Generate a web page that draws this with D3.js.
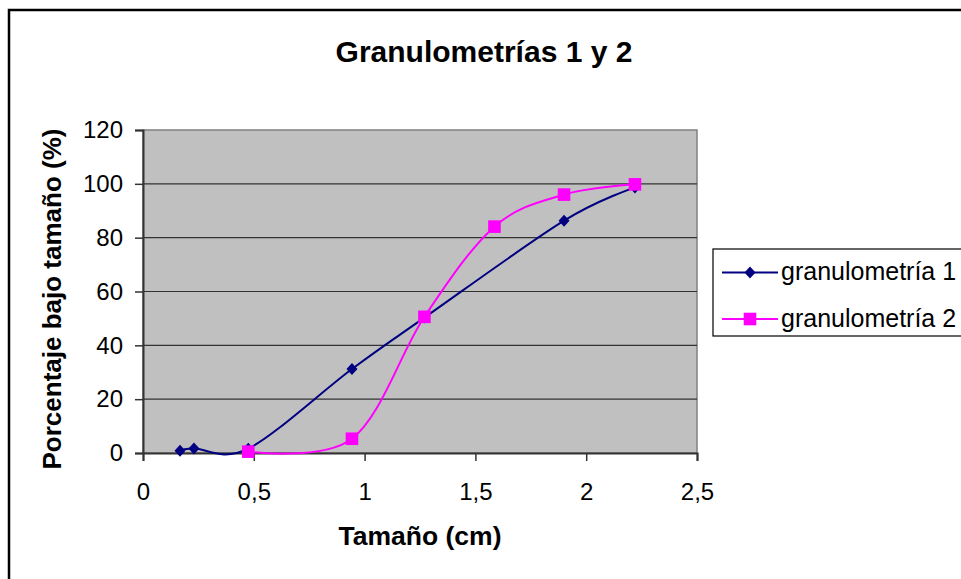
<!DOCTYPE html>
<html>
<head>
<meta charset="utf-8">
<script src="https://cdn.jsdelivr.net/npm/d3@7"></script>
<style>
  html, body { margin: 0; padding: 0; background: #fff; }
  svg { display: block; font-family: "Liberation Sans", Arial, sans-serif; }
</style>
</head>
<body>
<svg id="chart" width="961" height="579"></svg>
<script>
// Particle size (cm) and cumulative percentage passing for each grading
const sizes1 = [0.167, 0.23, 0.475, 0.943, 1.27, 1.9, 2.22];
const passing1 = [0.8, 1.7, 1.6, 31.2, 50.3, 86.3, 98.6];
const sizes2 = [0.475, 0.943, 1.27, 1.586, 1.9, 2.22];
const passing2 = [0.5, 5.3, 50.6, 84.1, 96.0, 99.8];
const seriesNames = ["granulometría 1", "granulometría 2"];
const xTicks = [0, 0.5, 1, 1.5, 2, 2.5];
const yTicks = [0, 20, 40, 60, 80, 100, 120];

const svg = d3.select("#chart");
const plot = { left: 143, top: 130, right: 697, bottom: 453 };

const x = d3.scaleLinear().domain([0, 2.5]).range([plot.left, plot.right]);
const y = d3.scaleLinear().domain([0, 120]).range([plot.bottom, plot.top]);
const fmt = d => String(d).replace(".", ",");

// Chart frame (runs past the right and bottom edges of the view)
svg.append("path")
  .attr("d", "M9,579 V10 H961")
  .attr("fill", "none").attr("stroke", "#000").attr("stroke-width", 2.5);

// Plot background
svg.append("rect")
  .attr("x", plot.left).attr("y", plot.top)
  .attr("width", plot.right - plot.left).attr("height", plot.bottom - plot.top)
  .attr("fill", "#c0c0c0").attr("stroke", "#808080").attr("stroke-width", 1.5);

// Horizontal gridlines
svg.append("g").selectAll("line").data(yTicks.filter(d => d > 0 && d < 120)).join("line")
  .attr("x1", plot.left).attr("x2", plot.right)
  .attr("y1", d => y(d)).attr("y2", d => y(d))
  .attr("stroke", "#333").attr("stroke-width", 1.2);

// Axes
const yAxis = svg.append("g").attr("transform", `translate(${plot.left},0)`)
  .call(d3.axisLeft(y).tickValues(yTicks).tickSize(8).tickPadding(12).tickFormat(fmt));
const xAxis = svg.append("g").attr("transform", `translate(0,${plot.bottom})`)
  .call(d3.axisBottom(x).tickValues(xTicks).tickSize(8).tickPadding(22).tickFormat(fmt));
[yAxis, xAxis].forEach(a => {
  a.select(".domain").attr("stroke", "#333").attr("stroke-width", 2);
  a.selectAll(".tick line").attr("stroke", "#333").attr("stroke-width", 1.5);
  a.selectAll(".tick text").attr("fill", "#000").style("font-size", "24px")
    .style("font-family", "'Liberation Sans', Arial, sans-serif");
});
xAxis.selectAll(".tick text").attr("dy", "0.71em");

// Series lines, smoothed
const line = d3.line().x(d => x(d[0])).y(d => y(d[1])).curve(d3.curveCardinal.tension(0));
const s1 = sizes1.map((v, i) => [v, passing1[i]]);
const s2 = sizes2.map((v, i) => [v, passing2[i]]);
const diamond = "M0,-6 L5.5,0 L0,6 L-5.5,0 Z";
const half = 6.3;

svg.append("path").datum(s1).attr("d", line)
  .attr("fill", "none").attr("stroke", "#000080").attr("stroke-width", 2);
svg.append("g").selectAll("path").data(s1).join("path")
  .attr("transform", d => `translate(${x(d[0])},${y(d[1])})`)
  .attr("d", diamond).attr("fill", "#000080");

svg.append("path").datum(s2).attr("d", line)
  .attr("fill", "none").attr("stroke", "#ff00ff").attr("stroke-width", 2);
svg.append("g").selectAll("rect").data(s2).join("rect")
  .attr("x", d => x(d[0]) - half).attr("y", d => y(d[1]) - half)
  .attr("width", half * 2).attr("height", half * 2).attr("fill", "#ff00ff");

// Titles
svg.append("text").attr("x", 484).attr("y", 62).attr("text-anchor", "middle")
  .style("font-size", "30px").style("font-weight", "bold").text("Granulometrías 1 y 2");
svg.append("text").attr("x", 420).attr("y", 545).attr("text-anchor", "middle")
  .style("font-size", "26.5px").style("font-weight", "bold").text("Tamaño (cm)");
svg.append("text").attr("transform", "translate(61,299) rotate(-90)").attr("text-anchor", "middle")
  .style("font-size", "26px").style("font-weight", "bold").text("Porcentaje bajo tamaño (%)");

// Legend
const legend = svg.append("g");
legend.append("rect").attr("x", 713).attr("y", 249).attr("width", 260).attr("height", 87)
  .attr("fill", "#fff").attr("stroke", "#000").attr("stroke-width", 1.2);
const colors = ["#000080", "#ff00ff"];
seriesNames.forEach((name, i) => {
  const cy = 272.5 + i * 46.5;
  legend.append("line").attr("x1", 722).attr("x2", 778).attr("y1", cy).attr("y2", cy)
    .attr("stroke", colors[i]).attr("stroke-width", 2);
  if (i === 0) {
    legend.append("path").attr("transform", `translate(750,${cy})`)
      .attr("d", diamond).attr("fill", colors[i]);
  } else {
    legend.append("rect").attr("x", 750 - half).attr("y", cy - half)
      .attr("width", half * 2).attr("height", half * 2).attr("fill", colors[i]);
  }
  legend.append("text").attr("x", 781).attr("y", cy + 7.5).style("font-size", "25px").text(name);
});
</script>
</body>
</html>
